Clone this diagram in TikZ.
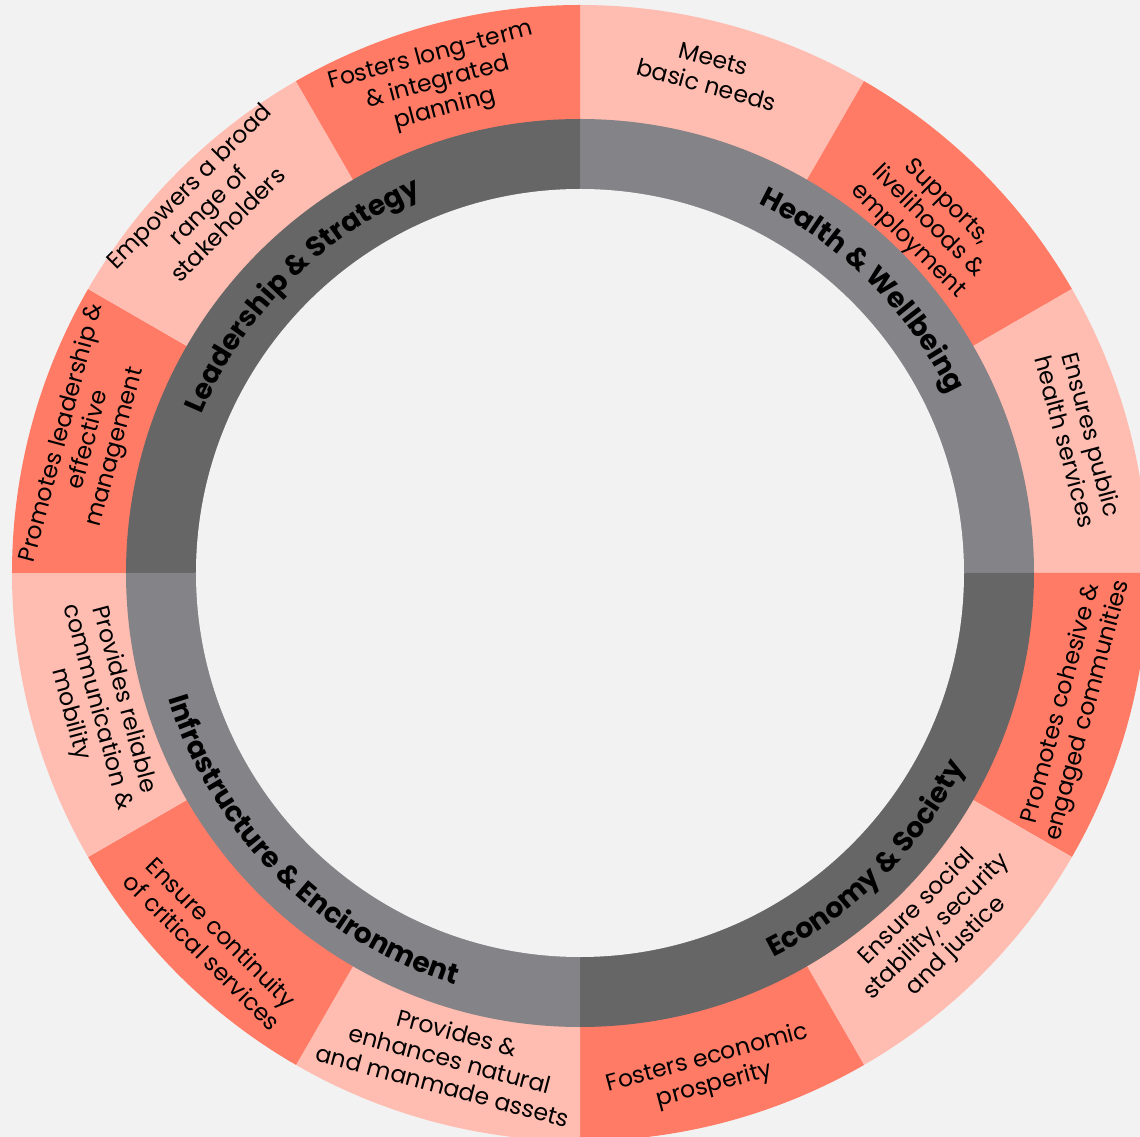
\documentclass[tikz,border=0pt]{standalone}
\usepackage{fontspec}
\setmainfont{Poppins}
\usetikzlibrary{decorations.text}
\definecolor{bg}{HTML}{F2F2F2}
\definecolor{lightsal}{HTML}{FFBCB0}
\definecolor{darksal}{HTML}{FF7B66}
\definecolor{ringdark}{HTML}{666666}
\definecolor{ringlight}{HTML}{848388}
\newcommand\ringfont{\fontsize{28}{28}\selectfont\bfseries}
\begin{document}
\begin{tikzpicture}[x=1pt,y=1pt,
  outertext/.style={align=center, font=\fontsize{23.5}{27.5}\selectfont, text=black, inner sep=0pt},
  ringlabel/.style={decorate, decoration={text along path, text align=center, text={|\ringfont|#1}}}
]
\useasboundingbox (-580,-564) rectangle (560,573);
\clip (-580,-564) rectangle (560,573);
\fill[bg] (-580,-564) rectangle (560,573);
% outer segments
\foreach \a/\c in {60/lightsal,30/darksal,0/lightsal,-30/darksal,-60/lightsal,-90/darksal,240/lightsal,210/darksal,180/lightsal,150/darksal,120/lightsal,90/darksal}
  \fill[\c] (0,0) -- (\a:568) arc[start angle=\a, end angle=\a+30, radius=568] -- cycle;
% grey ring quadrants
\foreach \a/\c in {0/ringlight,90/ringdark,180/ringlight,270/ringdark}
  \fill[\c] (0,0) -- (\a:454) arc[start angle=\a, end angle=\a+90, radius=454] -- cycle;
\fill[bg] (0,0) circle (384);
% ring labels
\path[ringlabel={Health {\&} Wellbeing}] (90:410) arc[start angle=90, end angle=0, radius=410];
\path[ringlabel={Leadership {\&} Strategy}] (180:410) arc[start angle=180, end angle=90, radius=410];
\path[ringlabel={Economy {\&} Society}] (270:430) arc[start angle=270, end angle=360, radius=430];
\path[ringlabel={Infrastructure {\&} Encironment}] (180:430) arc[start angle=180, end angle=270, radius=430];
% outer texts
\node[outertext, rotate=-15] (t1) at (130,501) {Meets\\basic needs};
\node[outertext, rotate=-45] (t2) at (347,351) {Supports,\\livelihoods \&\\employment};
\node[outertext, rotate=-75] (t3) at (499,135) {Ensures public\\health services};
\node[outertext, rotate=75] (t4) at (495,-134) {Promotes cohesive \&\\engaged communities};
\node[outertext, rotate=45] (t5) at (357,-354) {Ensure social\\stability, security\\and justice};
\node[outertext, rotate=15] (t6) at (131,-499) {Fosters economic\\prosperity};
\node[outertext, rotate=-15] (t7) at (-130,-486) {Provides \&\\enhances natural\\and manmade assets};
\node[outertext, rotate=-45] (t8) at (-368,-369) {Ensure continuity\\of critical services};
\node[outertext, rotate=-75] (t9) at (-483,-134) {Provides reliable\\communication \&\\mobility};
\node[outertext, rotate=75] (t10) at (-491,133) {Promotes leadership \&\\effective\\management};
\node[outertext, rotate=45] (t11) at (-372,368) {Empowers a broad\\range of\\stakeholders};
\node[outertext, rotate=15] (t12) at (-142,490) {Fosters long-term\\\& integrated\\planning};
\end{tikzpicture}
\end{document}
